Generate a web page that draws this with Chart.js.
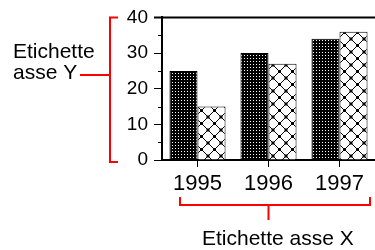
<!DOCTYPE html>
<html>
<head>
<meta charset="utf-8">
<script src="https://cdn.jsdelivr.net/npm/chart.js@4"></script>
<style>
  html, body { margin: 0; padding: 0; background: #fff; }
  #wrap { width: 375px; height: 250px; }
</style>
</head>
<body>
<div id="wrap"><canvas id="myChart" width="375" height="250"></canvas></div>
<script>
var years = ["1995", "1996", "1997"];
var serie1 = [25, 30, 34];
var serie2 = [15, 27, 36];
var yTicks = [0, 10, 20, 30, 40];
var titoloY = ["Etichette", "asse Y"];
var titoloX = "Etichette asse X";

var canvas = document.getElementById("myChart");
var ctx = canvas.getContext("2d");

// dotted dark fill
function dotPattern() {
  var c = document.createElement("canvas");
  c.width = 3; c.height = 3;
  var g = c.getContext("2d");
  g.fillStyle = "#000";
  g.fillRect(0, 0, 3, 3);
  g.fillStyle = "#fff";
  g.fillRect(1, 1, 1, 1);
  return ctx.createPattern(c, "repeat");
}

// diamond lattice fill
function latticePattern() {
  var s = 13;
  var c = document.createElement("canvas");
  c.width = s; c.height = s;
  var g = c.getContext("2d");
  g.fillStyle = "#fff";
  g.fillRect(0, 0, s, s);
  g.strokeStyle = "#000";
  g.lineWidth = 1;
  g.beginPath();
  g.moveTo(0, 0); g.lineTo(s, s);
  g.moveTo(s, 0); g.lineTo(0, s);
  g.stroke();
  g.fillStyle = "#000";
  g.fillRect(s / 2 - 1.5, s / 2 - 1.5, 3, 3);
  g.fillRect(0, 0, 1.5, 1.5);
  g.fillRect(s - 1.5, 0, 1.5, 1.5);
  g.fillRect(0, s - 1.5, 1.5, 1.5);
  g.fillRect(s - 1.5, s - 1.5, 1.5, 1.5);
  return ctx.createPattern(c, "repeat");
}

var extras = {
  id: "extras",
  afterDraw: function (chart) {
    var a = chart.chartArea;
    var y = chart.scales.y;
    var x = chart.scales.x;
    var c = chart.ctx;
    c.save();

    // top border line
    c.strokeStyle = "#000";
    c.lineWidth = 2;
    c.beginPath();
    c.moveTo(a.left - 8, a.top);
    c.lineTo(chart.width, a.top);
    c.stroke();

    // minor ticks
    c.lineWidth = 1;
    for (var i = 0; i < yTicks.length - 1; i++) {
      var py = Math.round(y.getPixelForValue((yTicks[i] + yTicks[i + 1]) / 2)) + 0.5;
      c.beginPath();
      c.moveTo(a.left - 4, py);
      c.lineTo(a.left, py);
      c.stroke();
    }

    // red brackets
    c.strokeStyle = "#ff0000";
    c.lineWidth = 2;
    var bx = a.left - 52;
    c.beginPath();
    c.moveTo(bx + 8, a.top);
    c.lineTo(bx, a.top);
    c.lineTo(bx, a.bottom + 2);
    c.lineTo(bx + 8, a.bottom + 2);
    var my = 75;
    c.moveTo(bx, my);
    c.lineTo(bx - 30, my);
    c.stroke();

    var l = a.left + 18, r = a.right - 5, by = 205;
    var mx = (a.left + a.right) / 2;
    c.beginPath();
    c.moveTo(l, by - 8);
    c.lineTo(l, by);
    c.lineTo(r, by);
    c.lineTo(r, by - 8);
    c.moveTo(mx, by);
    c.lineTo(mx, by + 15);
    c.stroke();

    // titles
    c.fillStyle = "#000";
    c.font = "21px 'Liberation Sans', Arial, sans-serif";
    c.textAlign = "left";
    c.textBaseline = "alphabetic";
    c.fillText(titoloY[0], 13, 58);
    c.fillText(titoloY[1], 13, 79);
    c.fillText(titoloX, 202, 245);
    c.restore();
  }
};

var myChart = new Chart(ctx, {
  type: "bar",
  plugins: [extras],
  data: {
    labels: years,
    datasets: [{
        label: "Serie 1",
        data: serie1,
        backgroundColor: dotPattern(),
        borderColor: "#000",
        borderWidth: 1,
        borderSkipped: "bottom"
      },
      {
        label: "Serie 2",
        data: serie2,
        backgroundColor: latticePattern(),
        borderColor: "#000",
        borderWidth: 1,
        borderSkipped: "bottom"
      }
    ]
  },
  options: {
    responsive: false,
    devicePixelRatio: 1,
    animation: false,
    layout: {
      padding: { left: 0, top: 16, right: 0, bottom: 0 }
    },
    datasets: {
      bar: {
        categoryPercentage: 0.79,
        barPercentage: 1
      }
    },
    plugins: {
      legend: { display: false },
      tooltip: { enabled: false }
    },
    scales: {
      x: {
        afterFit: function (scale) { scale.height = 90; },
        grid: {
          offset: false,
          drawOnChartArea: false,
          tickLength: 7,
          color: "#000",
          lineWidth: 1
        },
        border: { color: "#000", width: 2 },
        ticks: {
          color: "#000",
          padding: 4,
          maxRotation: 0,
          font: { family: "'Liberation Sans', Arial, sans-serif", size: 22 }
        }
      },
      y: {
        min: 0,
        max: 40,
        afterFit: function (scale) { scale.width = 162; },
        grid: {
          drawOnChartArea: false,
          tickLength: 8,
          color: "#000",
          lineWidth: 1
        },
        border: { color: "#000", width: 2 },
        ticks: {
          stepSize: 10,
          color: "#000",
          padding: 6,
          font: { family: "'Liberation Sans', Arial, sans-serif", size: 19 }
        }
      }
    }
  }
});
</script>
</body>
</html>
